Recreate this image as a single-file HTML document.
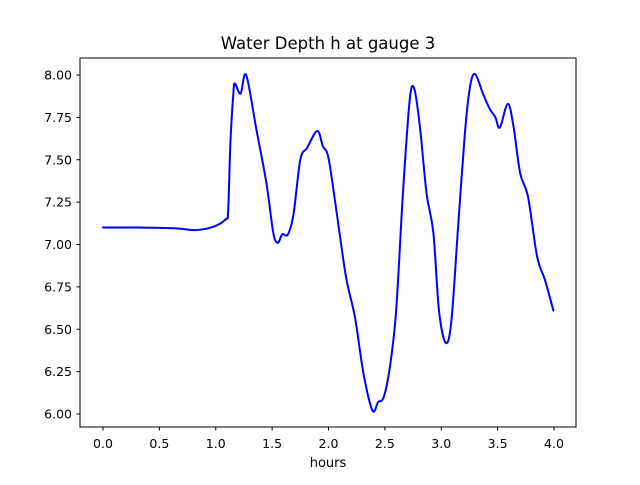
<!DOCTYPE html>
<html><head><meta charset="utf-8"><style>
body{margin:0;background:#fff;}
svg text{font-family:"DejaVu Sans","Liberation Sans",sans-serif;fill:#000;}
</style></head><body>
<svg id="chart" width="640" height="480" xmlns="http://www.w3.org/2000/svg">
<rect width="640" height="480" fill="#fff"/>
<text x="328" y="49" font-size="16.5" text-anchor="middle">Water Depth h at gauge 3</text>
<g id="axes"></g>
<path id="line" fill="none" stroke="#0000ff" stroke-width="2" stroke-linejoin="round" stroke-linecap="round"/>
<rect x="80" y="58" width="496" height="369" fill="none" stroke="#000" stroke-width="1"/>
<text x="328" y="467" font-size="13" text-anchor="middle">hours</text>
</svg>
<script>
const xs=[0,0.3,0.65,0.82,0.98,1.09,1.11,1.13,1.156,1.17,1.22,1.27,1.36,1.45,1.51,1.55,1.59,1.64,1.69,1.75,1.81,1.90,1.95,2.00,2.07,2.155,2.235,2.31,2.39,2.44,2.49,2.545,2.60,2.66,2.72,2.76,2.81,2.87,2.93,2.98,3.04,3.09,3.15,3.21,3.255,3.30,3.37,3.43,3.48,3.52,3.59,3.64,3.70,3.77,3.85,3.92,3.995];
const ys=[7.10,7.10,7.095,7.085,7.105,7.15,7.20,7.60,7.89,7.95,7.89,8.00,7.68,7.36,7.07,7.01,7.06,7.06,7.18,7.50,7.57,7.67,7.58,7.51,7.20,6.81,6.57,6.24,6.02,6.07,6.10,6.28,6.61,7.30,7.85,7.92,7.70,7.30,7.07,6.61,6.42,6.55,7.11,7.66,7.93,8.005,7.89,7.80,7.75,7.69,7.83,7.70,7.42,7.28,6.93,6.79,6.61];
const xTicks=[0,0.5,1,1.5,2,2.5,3,3.5,4];
const xTickLabels=["0.0","0.5","1.0","1.5","2.0","2.5","3.0","3.5","4.0"];
const yTicks=[6,6.25,6.5,6.75,7,7.25,7.5,7.75,8];
const yTickLabels=["6.00","6.25","6.50","6.75","7.00","7.25","7.50","7.75","8.00"];
const X=v=>103+v*112.75;
const Y=v=>414-(v-6)*169.5;
const NS="http://www.w3.org/2000/svg";
const axes=document.getElementById('axes');
function mk(t,a){const e=document.createElementNS(NS,t);for(const k in a)e.setAttribute(k,a[k]);axes.appendChild(e);return e;}
xTicks.forEach((t,i)=>{
  const l=mk('line',{x1:X(t),x2:X(t),y1:427,y2:430.5,stroke:'#000'});
  
  
  const tx=mk('text',{x:X(t),y:448,'font-size':12.5,'text-anchor':'middle'});
  tx.textContent=xTickLabels[i];
  
  
});
yTicks.forEach((t,i)=>{
  const l=mk('line',{x1:76.5,x2:80,y1:Y(t),y2:Y(t),stroke:'#000'});
  
  
  const tx=mk('text',{x:72,y:Y(t)+4.5,'font-size':12.5,'text-anchor':'end'});
  tx.textContent=yTickLabels[i];
  
  
});
const P=xs.map((x,i)=>[X(x),Y(ys[i])]);
let d='M'+P[0][0]+','+P[0][1];
for(let i=0;i<P.length-1;i++){
  const p0=P[Math.max(0,i-1)],p1=P[i],p2=P[i+1],p3=P[Math.min(P.length-1,i+2)];
  const c1=[p1[0]+(p2[0]-p0[0])/6,p1[1]+(p2[1]-p0[1])/6];
  const c2=[p2[0]-(p3[0]-p1[0])/6,p2[1]-(p3[1]-p1[1])/6];
  d+=`C${c1[0]},${c1[1]} ${c2[0]},${c2[1]} ${p2[0]},${p2[1]}`;
}
document.getElementById('line').setAttribute('d',d);
</script>
</body></html>
